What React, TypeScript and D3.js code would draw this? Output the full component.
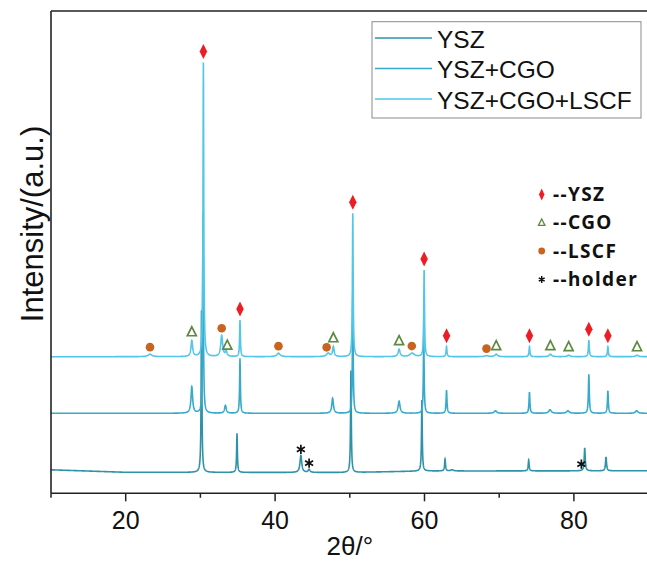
import React from 'react';
import * as d3 from 'd3';

const W = 647;
const H = 563;
const PLOT_LEFT = 51;
const PLOT_RIGHT = 648.6;
const PLOT_TOP = 11;
const PLOT_BOTTOM = 493.3;

// axis domains and ticks
const xDomain: [number, number] = [10, 90];
const yDomain: [number, number] = [0, 482.3];
const xMajorTicks = [20, 40, 60, 80];
const xMinorTicks = [10, 30, 50, 70];
const xLabel = '2θ/°';
const yLabel = 'Intensity/(a.u.)';

// series
const seriesNames = ['YSZ', 'YSZ+CGO', 'YSZ+CGO+LSCF'];

// peaks: [2θ, height, half width]
const yszPeaks: [number, number, number][] = [
  [30.15, 162, 0.06],
  [34.9, 39, 0.06],
  [43.45, 17, 0.14],
  [44.55, 3, 0.14],
  [50.15, 102, 0.06],
  [59.65, 71, 0.06],
  [62.75, 12, 0.07],
  [63.7, 1.2, 0.2],
  [73.95, 11, 0.07],
  [81.45, 23, 0.08],
  [84.3, 14, 0.08],
];
const cgoPeaks: [number, number, number][] = [
  [28.85, 26.5, 0.13],
  [30.35, 200, 0.06],
  [33.35, 8, 0.13],
  [35.3, 55, 0.06],
  [47.7, 15, 0.13],
  [50.4, 120, 0.06],
  [56.6, 12, 0.15],
  [59.9, 80, 0.06],
  [62.95, 23, 0.07],
  [69.5, 2.5, 0.2],
  [74.05, 21, 0.07],
  [76.8, 3.5, 0.2],
  [79.2, 2.5, 0.2],
  [82.0, 39, 0.07],
  [84.55, 22.5, 0.07],
  [88.4, 2.5, 0.2],
];
const lscfPeaks: [number, number, number][] = [
  [23.25, 2.5, 0.3],
  [28.85, 16, 0.13],
  [30.4, 294, 0.06],
  [32.85, 21, 0.15],
  [33.45, 5, 0.13],
  [35.3, 36.5, 0.06],
  [40.45, 3.5, 0.25],
  [47.1, 3.5, 0.25],
  [47.8, 10, 0.12],
  [50.4, 143.5, 0.06],
  [56.6, 7.5, 0.15],
  [58.35, 3.5, 0.35],
  [59.95, 86.5, 0.06],
  [62.95, 10, 0.07],
  [68.3, 1, 0.3],
  [69.6, 2.5, 0.2],
  [74.05, 10, 0.07],
  [76.85, 2.5, 0.2],
  [79.3, 1.5, 0.2],
  [82.0, 16.5, 0.07],
  [84.55, 10, 0.07],
  [88.45, 1.5, 0.2],
];

// baselines (stacked offsets): [2θ, level]
const yszBaseline: [number, number][] = [[10, 23.5], [20, 21], [50, 20.8], [60, 22.3], [90, 22.5]];
const cgoBaseline: [number, number][] = [[10, 80], [90, 80]];
const lscfBaseline: [number, number][] = [[10, 136.6], [90, 136.6]];

// phase markers (2θ positions)
const yszMarks = [30.4, 35.3, 50.4, 59.95, 62.95, 74.05, 82.0, 84.55];
const cgoMarks = [28.85, 33.6, 47.8, 56.6, 69.6, 76.85, 79.3, 88.45];
const lscfMarks = [23.25, 32.85, 40.45, 46.9, 58.3, 68.3];
const holderMarks = [43.45, 44.55, 81.0];
const phaseLegend = ['--YSZ', '--CGO', '--LSCF', '--holder'];

const colors = ['#2f93a8', '#37aacb', '#52c6e8'];
const FONT = '"Liberation Sans", Arial, sans-serif';

function buildProfile(peaks: [number, number, number][], base: [number, number][]) {
  const baseScale = d3.scaleLinear().domain(base.map(d => d[0])).range(base.map(d => d[1]));
  const xs = d3.range(xDomain[0], xDomain[1] + 1e-9, 0.02).concat(peaks.map(p => p[0]));
  xs.sort((a, b) => a - b);
  const f = (x: number) => baseScale(x) + d3.sum(peaks, ([c, h, w]) => (h * w * w) / ((x - c) ** 2 + w * w));
  return { points: xs.map(x => [x, f(x)] as [number, number]), f };
}

export default function App() {
  const x = d3.scaleLinear().domain(xDomain).range([PLOT_LEFT, PLOT_RIGHT]);
  const y = d3.scaleLinear().domain(yDomain).range([PLOT_BOTTOM, PLOT_TOP]);
  const profiles = [
    buildProfile(yszPeaks, yszBaseline),
    buildProfile(cgoPeaks, cgoBaseline),
    buildProfile(lscfPeaks, lscfBaseline),
  ];
  const line = d3.line<[number, number]>().x(d => x(d[0])).y(d => y(d[1]));
  const top = profiles[2].f;
  const bottom = profiles[0].f;

  const diamond = (cx: number, cy: number, w: number, h: number) =>
    `M${cx},${cy - h / 2}L${cx + w / 2},${cy}L${cx},${cy + h / 2}L${cx - w / 2},${cy}Z`;
  const triangle = (cx: number, cy: number, s: number) =>
    `M${cx},${cy - s * 0.55}L${cx + s / 2},${cy + s * 0.45}L${cx - s / 2},${cy + s * 0.45}Z`;
  const asterisk = d3.symbol(d3.symbolAsterisk, 60)();
  const asteriskSmall = d3.symbol(d3.symbolAsterisk, 32)();

  const red = '#ee1c24';
  const green = '#5c8a40';
  const orange = '#c8641f';

  const legendY = [194.5, 222.5, 251, 279.5];

  return (
    <svg width={W} height={H} style={{ position: 'absolute', left: 0, top: 0, background: '#fff' }}>
      <rect x={0} y={0} width={W} height={H} fill="#fff" />
      <clipPath id="plotclip">
        <rect x={PLOT_LEFT} y={PLOT_TOP} width={PLOT_RIGHT - PLOT_LEFT} height={PLOT_BOTTOM - PLOT_TOP} />
      </clipPath>
      <g clipPath="url(#plotclip)">
        {profiles.map((p, i) => (
          <path key={i} d={line(p.points) || ''} fill="none" stroke={colors[i]} strokeWidth={1.6} />
        ))}
      </g>
      {/* phase markers */}
      {yszMarks.map((m, i) => (
        <path key={'d' + i} d={diamond(x(m), y(top(m)) - 11, 7.5, 15)} fill={red} />
      ))}
      {cgoMarks.map((m, i) => (
        <path key={'t' + i} d={triangle(x(m), y(top(m)) - 8.5, 9)} fill="#fff" stroke={green} strokeWidth={1.7} />
      ))}
      {lscfMarks.map((m, i) => (
        <circle key={'c' + i} cx={x(m)} cy={y(top(m)) - 7} r={4.3} fill={orange} />
      ))}
      {holderMarks.map((m, i) => (
        <path key={'s' + i} d={asterisk || ''} transform={`translate(${x(m)},${y(bottom(m)) - 6})`} stroke="#111" strokeWidth={1.7} fill="none" />
      ))}
      {/* frame */}
      <line x1={PLOT_LEFT} x2={W} y1={PLOT_TOP} y2={PLOT_TOP} stroke="#222" strokeWidth={1.6} />
      <line x1={PLOT_LEFT} x2={PLOT_LEFT} y1={PLOT_TOP} y2={PLOT_BOTTOM} stroke="#222" strokeWidth={1.6} />
      <line x1={PLOT_LEFT} x2={W} y1={PLOT_BOTTOM} y2={PLOT_BOTTOM} stroke="#222" strokeWidth={1.6} />
      {xMajorTicks.map(t => (
        <g key={'M' + t}>
          <line x1={x(t)} x2={x(t)} y1={PLOT_BOTTOM} y2={PLOT_BOTTOM + 8} stroke="#222" strokeWidth={1.5} />
          <text x={x(t)} y={529} textAnchor="middle" fontFamily={FONT} fontSize={25} fill="#111">{t}</text>
        </g>
      ))}
      {xMinorTicks.map(t => (
        <line key={'m' + t} x1={x(t)} x2={x(t)} y1={PLOT_BOTTOM} y2={PLOT_BOTTOM + 4.5} stroke="#222" strokeWidth={1.5} />
      ))}
      <text x={(PLOT_LEFT + PLOT_RIGHT) / 2} y={555} textAnchor="middle" fontFamily={FONT} fontSize={26} fill="#111">{xLabel}</text>
      <text transform="translate(43,224) rotate(-90)" textAnchor="middle" fontFamily={FONT} fontSize={31} fill="#111">{yLabel}</text>
      {/* series legend */}
      <rect x={372} y={21.7} width={269} height={96.3} fill="#fff" stroke="#8a8a8a" strokeWidth={1} />
      {seriesNames.map((n, i) => (
        <g key={n}>
          <line x1={375} x2={432} y1={38 + i * 30.5} y2={38 + i * 30.5} stroke={colors[i]} strokeWidth={1.6} />
          <text x={437} y={47.5 + i * 30.5} fontFamily={FONT} fontSize={24.5} fill="#111">{n}</text>
        </g>
      ))}
      {/* phase legend */}
      <path d={diamond(541.7, legendY[0], 5.5, 12)} fill={red} />
      <path d={triangle(541.7, legendY[1], 6.5)} fill="#fff" stroke={green} strokeWidth={1.3} />
      <circle cx={541.7} cy={legendY[2]} r={3.4} fill={orange} />
      <path d={asteriskSmall || ''} transform={`translate(541.7,${legendY[3]})`} stroke="#111" strokeWidth={1.5} fill="none" />
      {phaseLegend.map((t, i) => (
        <text key={t} x={553} y={legendY[i]} dy="0.36em" fontFamily='"Noto Sans", sans-serif' fontWeight={700} fontSize={19} letterSpacing={1.4} fill="#111">{t}</text>
      ))}
    </svg>
  );
}
